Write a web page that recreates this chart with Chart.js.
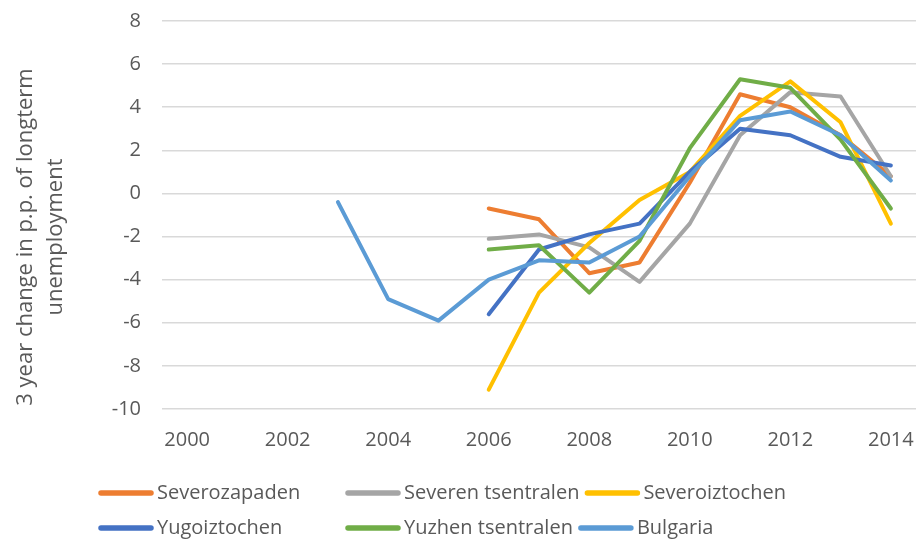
<!DOCTYPE html>
<html lang="en">
<head>
    <meta charset="UTF-8">
    <title>Longterm unemployment change</title>
    <style>
        body { margin: 0; background: #ffffff; }
        #main { width: 920px; height: 549px; position: relative; }
    </style>
    <script src="https://cdn.jsdelivr.net/npm/chart.js@4.4.1/dist/chart.umd.min.js"></script>
</head>
<body>
    <div id="main">
        <canvas id="graph1"></canvas>
    </div>
    <script>
        // categories
        const years = ['2000', '2001', '2002', '2003', '2004', '2005', '2006', '2007',
                       '2008', '2009', '2010', '2011', '2012', '2013', '2014'];
        const shownYears = ['2000', '2002', '2004', '2006', '2008', '2010', '2012', '2014'];

        // series (3 year change in p.p.)
        const severozapaden     = [null, null, null, null, null, null, -0.7, -1.2, -3.7, -3.2, 0.5, 4.6, 4.0, 2.7, 0.8];
        const severenTsentralen = [null, null, null, null, null, null, -2.1, -1.9, -2.5, -4.1, -1.4, 2.7, 4.7, 4.5, 0.8];
        const severoiztochen    = [null, null, null, null, null, null, -9.1, -4.6, -2.3, -0.3, 1.0, 3.6, 5.2, 3.3, -1.4];
        const yugoiztochen      = [null, null, null, null, null, null, -5.6, -2.6, -1.9, -1.4, 1.0, 3.0, 2.7, 1.7, 1.3];
        const yuzhenTsentralen  = [null, null, null, null, null, null, -2.6, -2.4, -4.6, -2.2, 2.1, 5.3, 4.9, 2.5, -0.7];
        const bulgaria          = [null, null, null, -0.4, -4.9, -5.9, -4.0, -3.1, -3.2, -2.0, 0.8, 3.4, 3.8, 2.7, 0.6];

        const seriesNames  = ['Severozapaden', 'Severen tsentralen', 'Severoiztochen', 'Yugoiztochen', 'Yuzhen tsentralen', 'Bulgaria'];
        const seriesValues = [severozapaden, severenTsentralen, severoiztochen, yugoiztochen, yuzhenTsentralen, bulgaria];
        const seriesColors = ['#ED7D31', '#A5A5A5', '#FFC000', '#4472C4', '#70AD47', '#5B9BD5'];

        const yTicks = { min: -10, max: 8, step: 2 };
        const yTitle = ['3 year change in p.p. of longterm', 'unemployment'];

        const fontName = '"Open Sans", "Noto Sans", sans-serif';
        const textColor = '#595959';

        // legend drawn Excel-style: two rows, first two items in fixed slots
        const excelLegend = {
            id: 'excelLegend',
            afterDraw(chart) {
                const ctx = chart.ctx;
                const area = chart.chartArea;
                ctx.save();
                ctx.font = '20px ' + fontName;
                ctx.textBaseline = 'middle';
                ctx.lineCap = 'round';
                const rows = [[0, 1, 2], [3, 4, 5]];
                rows.forEach((row, r) => {
                    const y = area.bottom + 84 + r * 35;
                    let x = 98;
                    row.forEach((idx, c) => {
                        if (c === 1) x = 345;
                        ctx.strokeStyle = seriesColors[idx];
                        ctx.lineWidth = 5.5;
                        ctx.beginPath();
                        ctx.moveTo(x + 3, y);
                        ctx.lineTo(x + 53, y);
                        ctx.stroke();
                        ctx.fillStyle = textColor;
                        ctx.fillText(seriesNames[idx], x + 59, y);
                        x = x + 59 + ctx.measureText(seriesNames[idx]).width + 5;
                    });
                });
                ctx.restore();
            }
        };

        // rotated two-line axis title, like the Excel one
        const axisTitle = {
            id: 'axisTitle',
            afterDraw(chart) {
                const ctx = chart.ctx;
                const area = chart.chartArea;
                ctx.save();
                ctx.font = '22px ' + fontName;
                ctx.fillStyle = textColor;
                ctx.textAlign = 'center';
                ctx.textBaseline = 'middle';
                ctx.translate(26, (area.top + area.bottom) / 2 + 22);
                ctx.rotate(-Math.PI / 2);
                yTitle.forEach((line, i) => ctx.fillText(line, 0, i * 30));
                ctx.restore();
            }
        };

        let ctx1 = document.getElementById('graph1').getContext('2d');

        let datasets = seriesNames.map((name, i) => ({
            label: name,
            data: seriesValues[i],
            borderColor: seriesColors[i],
            backgroundColor: seriesColors[i],
            borderWidth: 4,
            borderCapStyle: 'round',
            borderJoinStyle: 'round',
            pointRadius: 0,
            tension: 0,
            spanGaps: false,
            order: seriesNames.length - i
        }));

        let config1 = {
            type: 'line',
            data: { labels: years, datasets: datasets },
            options: {
                responsive: true,
                maintainAspectRatio: false,
                animation: false,
                devicePixelRatio: 1,
                layout: { padding: { top: 21, right: 4, bottom: 0, left: 0 } },
                plugins: {
                    legend: { display: false },
                    tooltip: { enabled: false }
                },
                scales: {
                    x: {
                        offset: true,
                        grid: { display: false },
                        border: { display: false },
                        ticks: {
                            autoSkip: false,
                            maxRotation: 0,
                            padding: 11,
                            color: textColor,
                            font: { family: fontName, size: 20 },
                            callback: function (value, index) {
                                const label = years[index];
                                return shownYears.includes(label) ? label : '';
                            }
                        },
                        afterFit: function (scale) {
                            scale.height = 140;
                            scale.paddingLeft = 0;
                            scale.paddingRight = 0;
                        }
                    },
                    y: {
                        min: yTicks.min,
                        max: yTicks.max,
                        grid: { color: '#D9D9D9', lineWidth: 1.5, drawTicks: false },
                        border: { display: false },
                        ticks: {
                            stepSize: yTicks.step,
                            padding: 21,
                            color: textColor,
                            font: { family: fontName, size: 20 }
                        },
                        afterFit: function (scale) {
                            scale.width = 162;
                            scale.paddingTop = 0;
                            scale.paddingBottom = 0;
                        }
                    }
                }
            },
            plugins: [excelLegend, axisTitle]
        };

        let graph1 = new Chart(ctx1, config1);
    </script>
</body>
</html>
